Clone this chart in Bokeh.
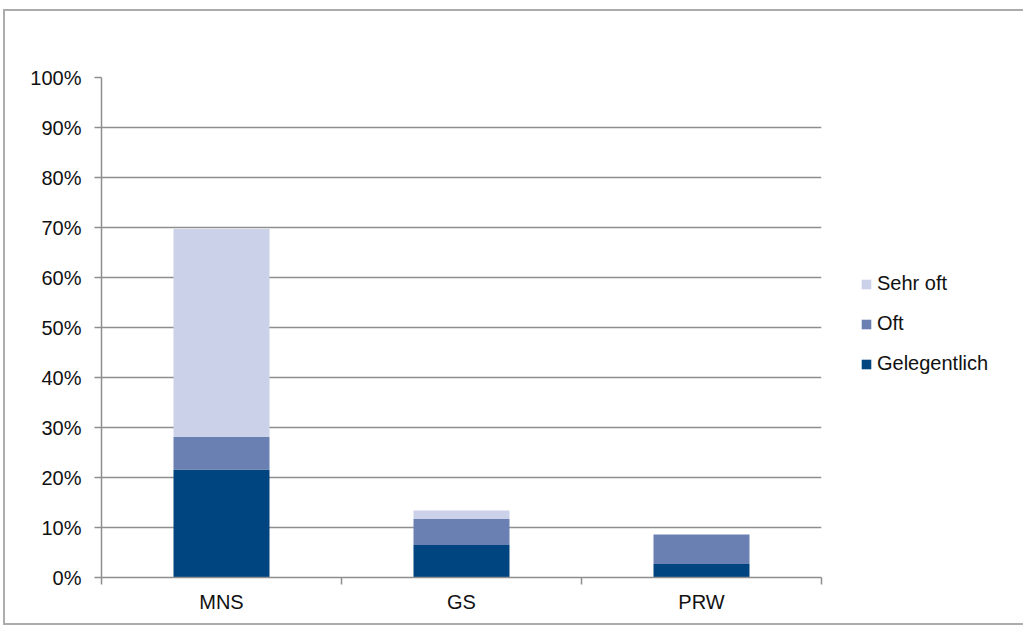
from bokeh.plotting import figure
from bokeh.models import FixedTicker, PrintfTickFormatter, Legend, LegendItem, Range1d
from bokeh.embed import file_html
from bokeh.resources import INLINE

categories = ["MNS", "GS", "PRW"]
gelegentlich = [21.6, 6.5, 2.7]
oft = [6.5, 5.2, 5.9]
sehr_oft = [41.6, 1.7, 0.0]
y_ticks = [0, 10, 20, 30, 40, 50, 60, 70, 80, 90, 100]

colors = {"Gelegentlich": "#00457f", "Oft": "#6a80b3", "Sehr oft": "#cbd1e8"}
FONT = "Liberation Sans"
FS = "20px"

xs = [i + 0.5 for i in range(len(categories))]
b1 = [0.0] * len(categories)
t1 = [b + v for b, v in zip(b1, gelegentlich)]
t2 = [b + v for b, v in zip(t1, oft)]
t3 = [b + v for b, v in zip(t2, sehr_oft)]

p = figure(frame_width=720, frame_height=500, output_backend="svg", toolbar_location=None,
           x_range=Range1d(0, len(categories)), y_range=Range1d(0, 100),
           min_border_left=96, min_border_right=197, min_border_top=66, min_border_bottom=46)
p.styles = {"border": "2px solid #acacac", "margin-left": "3px", "margin-top": "9px"}
p.outline_line_color = None
p.background_fill_color = "white"

r1 = p.vbar(x=xs, bottom=b1, top=t1, width=0.4, fill_color=colors["Gelegentlich"], line_color=None)
r2 = p.vbar(x=xs, bottom=t1, top=t2, width=0.4, fill_color=colors["Oft"], line_color=None)
r3 = p.vbar(x=xs, bottom=t2, top=t3, width=0.4, fill_color=colors["Sehr oft"], line_color=None)

p.xgrid.grid_line_color = None
p.ygrid.grid_line_color = "#8e8e8e"
p.ygrid.grid_line_width = 1.5
p.ygrid.level = "underlay"

p.yaxis.ticker = FixedTicker(ticks=y_ticks)
p.yaxis.formatter = PrintfTickFormatter(format="%d%%")
p.yaxis.axis_line_color = "#8e8e8e"
p.yaxis.axis_line_width = 1.5
p.yaxis.major_tick_line_color = "#8e8e8e"
p.yaxis.major_tick_line_width = 1.5
p.yaxis.major_tick_out = 7
p.yaxis.major_tick_in = 0
p.yaxis.minor_tick_line_color = None
p.yaxis.major_label_standoff = 13
p.yaxis.major_label_text_font = FONT
p.yaxis.major_label_text_font_size = FS
p.yaxis.major_label_text_color = "#111111"

p.xaxis.ticker = FixedTicker(ticks=xs, minor_ticks=list(range(len(categories) + 1)))
p.xaxis.major_label_overrides = {x: c for x, c in zip(xs, categories)}
p.xaxis.axis_line_color = "#8e8e8e"
p.xaxis.axis_line_width = 1.5
p.xaxis.major_tick_line_color = None
p.xaxis.major_tick_out = 7
p.xaxis.major_tick_in = 0
p.xaxis.minor_tick_line_color = "#8e8e8e"
p.xaxis.minor_tick_line_width = 1.5
p.xaxis.minor_tick_out = 7
p.xaxis.minor_tick_in = 0
p.xaxis.major_label_standoff = 6
p.xaxis.major_label_text_font = FONT
p.xaxis.major_label_text_font_size = FS
p.xaxis.major_label_text_color = "#111111"

legend = Legend(items=[LegendItem(label="Sehr oft", renderers=[r3]),
                       LegendItem(label="Oft", renderers=[r2]),
                       LegendItem(label="Gelegentlich", renderers=[r1])],
                location=(39, 202), orientation="vertical")
legend.glyph_width = 12
legend.glyph_height = 12
legend.label_height = 20
legend.spacing = 17
legend.padding = 0
legend.margin = 0
legend.label_standoff = 5
legend.border_line_color = None
legend.background_fill_alpha = 0
legend.label_text_font = FONT
legend.label_text_font_size = FS
legend.label_text_color = "#111111"
p.add_layout(legend, "right")

open("out.html", "w").write(file_html(p, INLINE))
